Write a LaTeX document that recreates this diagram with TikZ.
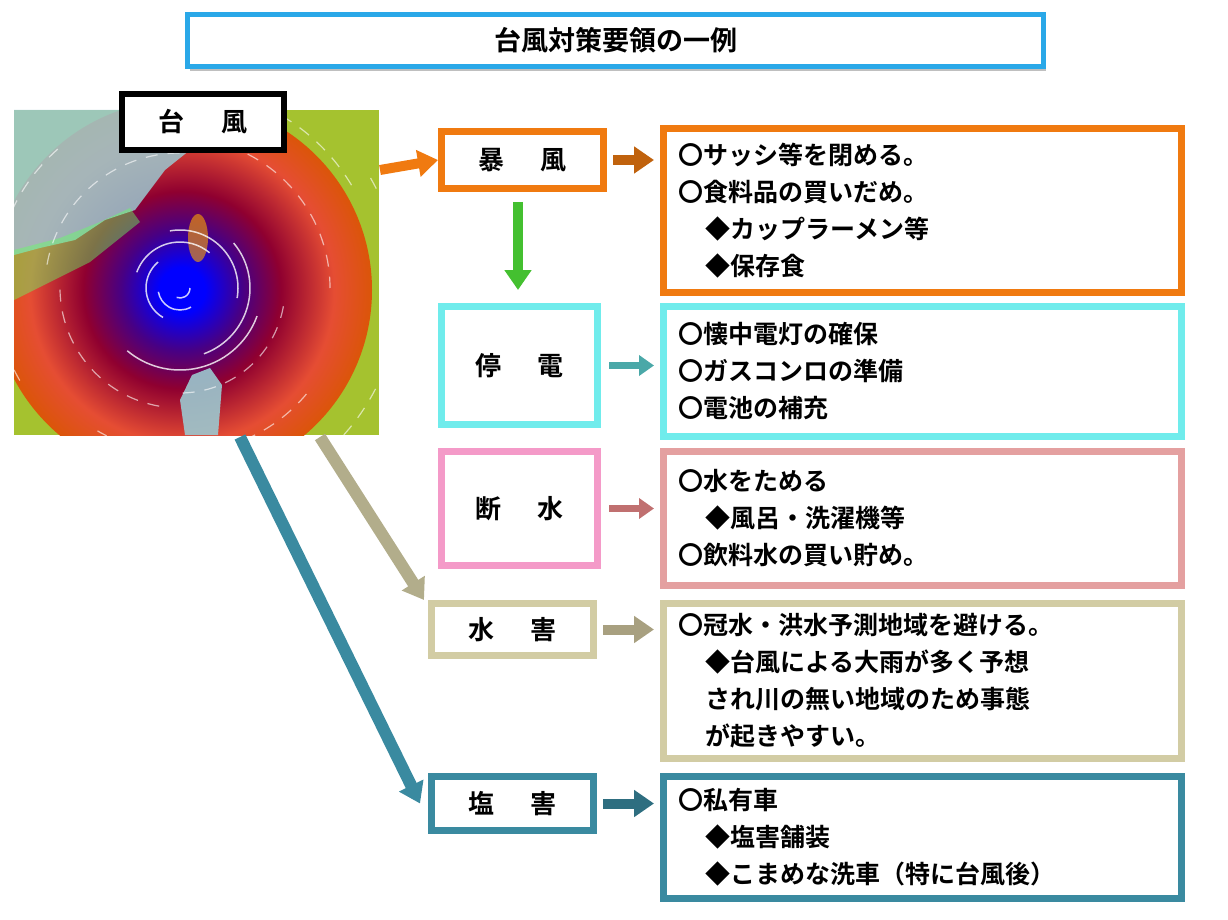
\documentclass[tikz,border=0pt]{standalone}
\usepackage{fontspec}
\setmainfont{Noto Sans CJK JP}[BoldFont={Noto Sans CJK JP Bold}]
\usetikzlibrary{arrows.meta}
\definecolor{cOr}{HTML}{F07A10}
\definecolor{cCy}{HTML}{70ECEC}
\definecolor{cPk}{HTML}{F49AC8}
\definecolor{cRs}{HTML}{E4A0A0}
\definecolor{cKh}{HTML}{D2CCA4}
\definecolor{cTl}{HTML}{3A8AA0}
\definecolor{cTi}{HTML}{2AA8E8}
\definecolor{aCy}{HTML}{4AA8A8}
\definecolor{aPk}{HTML}{C07070}
\definecolor{aKh}{HTML}{A8A080}
\definecolor{aGr}{HTML}{44C030}
\definecolor{land}{HTML}{9CC8D0}
\pgfdeclareradialshading{typh}{\pgfpoint{0bp}{0bp}}{color(0bp)=(blue); color(3bp)=(blue); color(8bp)=(violet!70!blue!80!black); color(13bp)=(violet!50!red!75!black); color(20bp)=(red!55!brown!90!white); color(26bp)=(orange!80!red!85!black); color(31bp)=(orange!50!yellow!90!black); color(35bp)=(yellow!70!green!85!black); color(50bp)=(yellow!70!green!85!black)}
\tikzset{
 box/.style={draw=#1, line width=7pt, fill=white, anchor=north west, inner sep=0pt, font=\bfseries\fontsize{26}{37}\selectfont},
 lbl/.style={font=\bfseries\fontsize{26}{30}\selectfont},
 arr/.style={draw=#1, line width=10pt, -{Triangle[length=20pt,width=26pt]}},
 txt/.style={anchor=west, align=left, font=\bfseries\fontsize{25}{37}\selectfont, inner sep=0pt}
}
\begin{document}
\begin{tikzpicture}[x=1pt,y=-1pt]
\useasboundingbox (0,0) rectangle (1228,920);
% title
\fill[gray!50] (190,17) rectangle (1046,71);
\node[box=cTi, line width=5pt, minimum width=856, minimum height=52] (title) at (185,12) {};
\node[lbl, font=\bfseries\fontsize{27}{30}\selectfont] at (title.center) {台風対策要領の一例};
% map
\begin{scope}
\clip (14,110) rectangle (379,435);
\fill[yellow!70!green!85!black] (14,110) rectangle (379,435);
\shade[shading=typh] (182,290) circle (190);
\fill[land, opacity=0.85] (14,110) -- (195,110) -- (190,150) -- (165,170) -- (150,190) -- (135,210) -- (105,220) -- (75,240) -- (40,248) -- (14,255) -- cycle;
\fill[green!60!white, opacity=0.45] (14,250) -- (60,238) -- (100,222) -- (130,208) -- (140,222) -- (90,262) -- (14,300) -- cycle;
\fill[land, opacity=0.9] (192,375) -- (210,368) -- (222,385) -- (218,435) -- (185,435) -- (180,400) -- cycle;
\fill[orange!70!yellow, opacity=0.6] (198,238) ellipse (10 and 24);
\foreach \r/\a in {10/0,22/60,34/120,46/200,58/260,70/320,82/20} {
  \draw[white, opacity=0.8, line width=1.5pt] (180,288) ++(\a:\r) arc (\a:\a+110:\r);
}
\foreach \r/\a in {105/10,120/100,135/190,150/280,165/40,185/150,200/250,220/330} {
  \draw[white, opacity=0.6, line width=1.2pt, dash pattern=on 12pt off 10pt] (180,288) ++(\a:\r) arc (\a:\a+80:\r);
}
\end{scope}
\node[box=black, line width=6pt, minimum width=162, minimum height=56] (typh) at (119,91) {};
\node[lbl] at (typh.center) {台\hspace{1.4em}風};
% left boxes
\node[box=cOr, minimum width=162, minimum height=57] (bofu) at (438,128) {暴\hspace{1.4em}風};
\node[box=cCy, minimum width=156, minimum height=118] (teiden) at (438,303) {停\hspace{1.4em}電};
\node[box=cPk, minimum width=156, minimum height=114] (dansui) at (438,448) {断\hspace{1.4em}水};
\node[box=cKh, minimum width=162, minimum height=52] (suigai) at (428,600) {水\hspace{1.4em}害};
\node[box=cTl, minimum width=162, minimum height=54] (engai) at (428,773) {塩\hspace{1.4em}害};
% right boxes
\node[box=cOr, minimum width=518, minimum height=164] (r1) at (660,125) {};
\node[box=cCy, minimum width=518, minimum height=130] (r2) at (660,303) {};
\node[box=cRs, minimum width=518, minimum height=134] (r3) at (660,448) {};
\node[box=cKh, minimum width=518, minimum height=155] (r4) at (660,600) {};
\node[box=cTl, minimum width=518, minimum height=122] (r5) at (660,773) {};
\node[txt] at ([xshift=18pt]r1.west) {〇サッシ等を閉める。\\〇食料品の買いだめ。\\\hspace{1.1em}◆カップラーメン等\\\hspace{1.1em}◆保存食};
\node[txt] at ([xshift=18pt]r2.west) {〇懐中電灯の確保\\〇ガスコンロの準備\\〇電池の補充};
\node[txt] at ([xshift=18pt]r3.west) {〇水をためる\\\hspace{1.1em}◆風呂・洗濯機等\\〇飲料水の買い貯め。};
\node[txt] at ([xshift=18pt]r4.west) {〇冠水・洪水予測地域を避ける。\\\hspace{1.1em}◆台風による大雨が多く予想\\\hspace{1.1em}され川の無い地域のため事態\\\hspace{1.1em}が起きやすい。};
\node[txt] at ([xshift=18pt]r5.west) {〇私有車\\\hspace{1.1em}◆塩害舗装\\\hspace{1.1em}◆こまめな洗車（特に台風後）};
% arrows
\coordinate (m1) at (380,170);
\coordinate (m2) at (320,437);
\coordinate (m3) at (240,437);
\draw[arr=cOr] (m1) -- (bofu.west);
\draw[arr=aGr] (bofu.south -| 518,0) ++(0,10) -- (518,290);
\draw[arr=cOr!80!black] ([xshift=6pt]bofu.east) -- ([xshift=-6pt]r1.west |- bofu.east);
\draw[arr=aCy, line width=7pt, -{Triangle[length=15pt,width=20pt]}] ([xshift=8pt]teiden.east) -- ([xshift=-6pt]r2.west |- teiden.east);
\draw[arr=aPk, line width=7pt, -{Triangle[length=15pt,width=20pt]}] ([xshift=8pt]dansui.east) -- ([xshift=-6pt]r3.west |- dansui.east);
\draw[arr=aKh] ([xshift=6pt]suigai.east) -- ([xshift=-6pt]r4.west |- suigai.east);
\draw[arr=cTl!80!black] ([xshift=6pt]engai.east) -- ([xshift=-6pt]r5.west |- engai.east);
\draw[arr=cKh!85!black, line width=12pt] (m2) -- ([xshift=-4pt]suigai.north west);
\draw[arr=cTl, line width=12pt] (m3) -- ([xshift=-8pt]engai.west);
\end{tikzpicture}
\end{document}
